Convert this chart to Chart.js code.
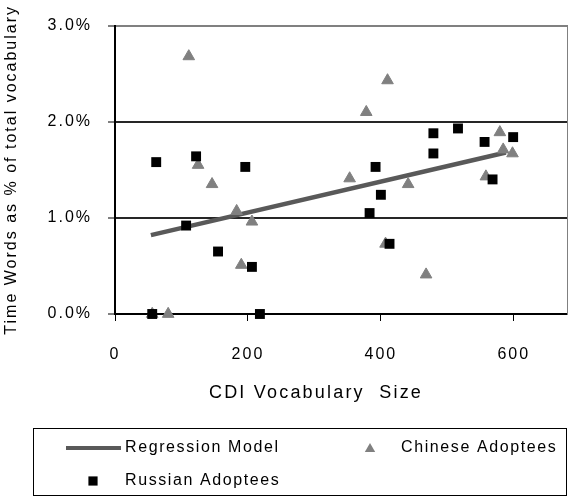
<!DOCTYPE html>
<html>
<head>
<meta charset="utf-8">
<script src="https://cdn.jsdelivr.net/npm/chart.js"></script>
<style>
  html, body { margin: 0; padding: 0; background: #fff; }
  canvas { display: block; }
</style>
</head>
<body>
<canvas id="chart" width="584" height="497"></canvas>
<script>
// CDI vocabulary size (x) vs time words as % of total vocabulary (y)
const chineseX = [56, 80, 111, 125, 146, 183, 190, 206, 353, 378, 407, 410, 441, 468, 558, 579, 584, 598]
const chineseY = [0, 0, 2.68, 1.55, 1.35, 1.07, 0.51, 0.96, 1.41, 2.10, 0.73, 2.43, 1.35, 0.41, 1.43, 1.89, 1.71, 1.67]

const russianX = [56, 62, 107, 122, 155, 196, 206, 218, 383, 392, 400, 413, 479, 479, 516, 556, 568, 599]
const russianY = [0, 1.58, 0.92, 1.64, 0.65, 1.53, 0.49, 0, 1.05, 1.53, 1.24, 0.73, 1.88, 1.67, 1.93, 1.79, 1.40, 1.84]

const regressionX = [54, 588]
const regressionY = [0.82, 1.68]

const xTicks = [0, 200, 400, 600]
const yTicks = [0, 1, 2, 3]

const FONT = 'Arial, "Liberation Sans", sans-serif'
const SPACING = '2px'   // the source text is set wide

const toPoints = (xs, ys) => xs.map((x, i) => ({ x, y: ys[i] }))

// canvas resets its state on resize, so set the spacing before every pass
const wideText = {
  id: 'wideText',
  beforeUpdate(chart) { chart.ctx.letterSpacing = SPACING },
  beforeDraw(chart) { chart.ctx.letterSpacing = SPACING },
}

// x title (sits a bit left of the plot centre) and the boxed legend
const legendBox = {
  id: 'legendBox',
  afterDraw(chart) {
    const { ctx } = chart
    const ds = chart.data.datasets
    ctx.save()
    ctx.fillStyle = '#000'
    ctx.textBaseline = 'middle'

    ctx.font = '18px ' + FONT
    ctx.letterSpacing = '2.2px'
    ctx.textAlign = 'center'
    ctx.fillText('CDI Vocabulary  Size', 316, 393)

    ctx.strokeStyle = '#000'
    ctx.lineWidth = 1
    ctx.strokeRect(33.5, 428.5, 533, 67)

    ctx.font = '16px ' + FONT
    ctx.letterSpacing = '1.6px'
    ctx.textAlign = 'left'

    // Regression Model
    const line = ds[0]
    ctx.strokeStyle = line.borderColor
    ctx.lineWidth = 4
    ctx.beginPath()
    ctx.moveTo(66, 448)
    ctx.lineTo(121, 448)
    ctx.stroke()
    ctx.fillText(line.label, 125, 448)

    // Chinese Adoptees
    const cn = ds[1]
    drawMarker(ctx, 'triangle', 370, 449, 6, cn.backgroundColor)
    ctx.fillStyle = '#000'
    ctx.fillText(cn.label, 401, 448)

    // Russian Adoptees
    const ru = ds[2]
    drawMarker(ctx, 'rect', 93, 481, 6.5, ru.backgroundColor)
    ctx.fillStyle = '#000'
    ctx.fillText(ru.label, 125, 481)
    ctx.restore()
  }
}

function drawMarker(ctx, style, x, y, r, color) {
  ctx.fillStyle = color
  ctx.beginPath()
  if (style === 'triangle') {
    ctx.moveTo(x, y - r)
    ctx.lineTo(x + r * 0.866, y + r * 0.5)
    ctx.lineTo(x - r * 0.866, y + r * 0.5)
    ctx.closePath()
  } else {
    const s = r * Math.SQRT1_2
    ctx.rect(x - s, y - s, 2 * s, 2 * s)
  }
  ctx.fill()
}

new Chart(document.getElementById('chart'), {
  type: 'scatter',
  data: {
    datasets: [
      {
        type: 'line',
        label: 'Regression Model',
        data: toPoints(regressionX, regressionY),
        borderColor: '#595959',
        backgroundColor: '#595959',
        borderWidth: 4.5,
        pointRadius: 0,
        fill: false,
        order: 3,
      },
      {
        label: 'Chinese Adoptees',
        data: toPoints(chineseX, chineseY),
        pointStyle: 'triangle',
        pointRadius: 6.7,
        backgroundColor: '#808080',
        borderColor: '#808080',
        borderWidth: 1,
        clip: false,
        order: 2,
      },
      {
        label: 'Russian Adoptees',
        data: toPoints(russianX, russianY),
        pointStyle: 'rect',
        pointRadius: 7,
        backgroundColor: '#000000',
        borderColor: '#000000',
        borderWidth: 0,
        clip: false,
        order: 1,
      },
    ],
  },
  options: {
    responsive: false,
    animation: false,
    events: [],
    layout: { padding: { top: 15, right: 17, left: 0, bottom: 83 } },
    plugins: {
      legend: { display: false },
      tooltip: { enabled: false },
    },
    scales: {
      x: {
        type: 'linear',
        min: 0,
        max: 680,
        afterBuildTicks(scale) {
          scale.ticks = xTicks.map(v => ({ value: v }))
        },
        afterFit(scale) { scale.height = 100 },
        ticks: {
          color: '#000',
          padding: 24,
          maxRotation: 0,
          font: { family: FONT, size: 16 },
        },
        grid: {
          drawOnChartArea: false,
          drawTicks: true,
          tickLength: 7,
          tickColor: '#000',
          tickWidth: 1,
        },
        border: { color: '#000', width: 2 },
        title: { display: false },
      },
      y: {
        min: 0,
        max: 3,
        afterBuildTicks(scale) {
          scale.ticks = yTicks.map(v => ({ value: v }))
        },
        afterFit(scale) { scale.width = 115 },
        ticks: {
          color: '#000',
          padding: 16,
          font: { family: FONT, size: 16 },
          callback: v => v.toFixed(1) + '%',
        },
        grid: {
          color: ctx => ctx.tick.value === 3 ? '#808080' : ctx.tick.value === 0 ? 'rgba(0,0,0,0)' : '#262626',
          lineWidth: 2,
          drawTicks: true,
          tickLength: 7,
          tickColor: '#000',
          tickWidth: 1,
        },
        border: { color: '#000', width: 2 },
        title: {
          display: true,
          text: 'Time Words as % of total vocabulary',
          color: '#000',
          font: { family: FONT, size: 16 },
          padding: { top: 2, bottom: 0 },
        },
      },
      y2: {
        position: 'right',
        min: 0,
        max: 3,
        afterFit(scale) { scale.width = 0 },
        ticks: { display: false },
        grid: { display: false },
        border: { color: '#808080', width: 1 },
      },
    },
  },
  plugins: [wideText, legendBox],
})
</script>
</body>
</html>
